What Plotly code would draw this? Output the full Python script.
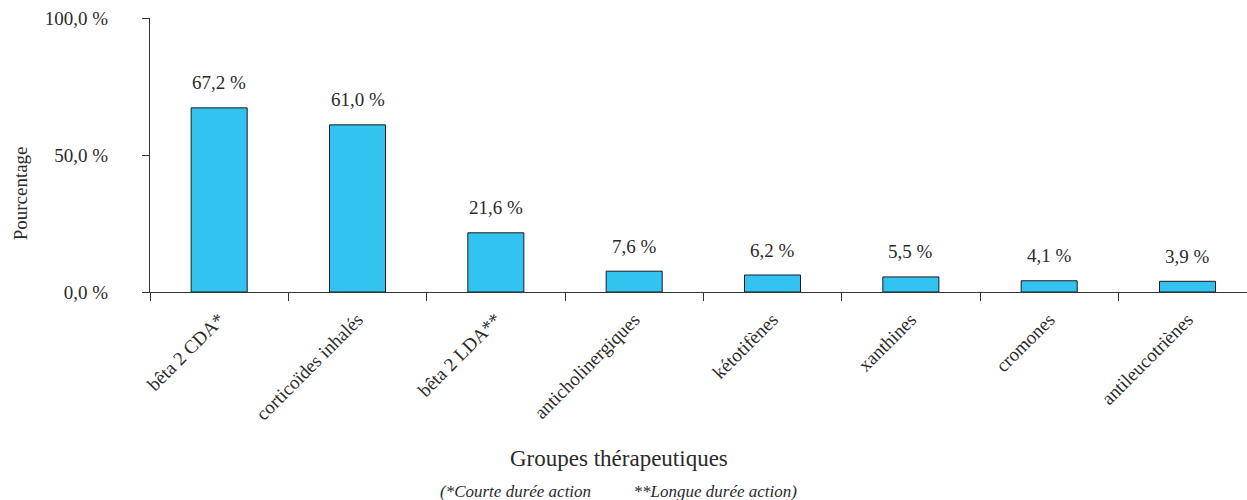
import plotly.graph_objects as go

categories = ["bêta 2 CDA*", "corticoïdes inhalés", "bêta 2 LDA**", "anticholinergiques",
              "kétotifènes", "xanthines", "cromones", "antileucotriènes"]
values = [67.2, 61.0, 21.6, 7.6, 6.2, 5.5, 4.1, 3.9]
value_labels = ["67,2 %", "61,0 %", "21,6 %", "7,6 %", "6,2 %", "5,5 %", "4,1 %", "3,9 %"]
y_tickvals = [0, 50, 100]
y_ticktext = ["0,0 %", "50,0 %", "100,0 %"]

FONT = "Liberation Serif"
TXT = "#2a2a2a"

fig = go.Figure()
fig.add_trace(go.Bar(
    x=categories, y=values,
    marker=dict(color="#33C3F0", line=dict(color="#1a1a1a", width=1)),
    width=0.405,
))

for c, v, t in zip(categories, values, value_labels):
    fig.add_annotation(x=c, y=v, text=t, showarrow=False, yshift=25,
                       font=dict(family=FONT, size=19, color=TXT))

fig.add_annotation(xref="paper", yref="paper", x=0.4275, y=0, yshift=-181,
                   text="Groupes thérapeutiques", showarrow=False,
                   font=dict(family=FONT, size=23, color=TXT))
fig.add_annotation(xref="paper", yref="paper", x=0.4275, y=0, yshift=-211,
                   text="<i>(*Courte durée action          **Longue durée action)</i>",
                   showarrow=False, font=dict(family=FONT, size=17, color=TXT))
fig.add_annotation(xref="paper", yref="paper", x=0, xshift=-130, xanchor="center",
                   y=0.36, text="Pourcentage", textangle=-90, showarrow=False,
                   font=dict(family=FONT, size=19, color=TXT))

fig.update_layout(
    width=1247, height=500,
    margin=dict(l=150, r=0, t=18, b=208),
    plot_bgcolor="white", paper_bgcolor="white",
    showlegend=False,
    font=dict(family=FONT, color=TXT),
    xaxis=dict(
        range=[-0.5, 7.43],
        showline=True, linecolor="#333333", linewidth=1,
        ticks="outside", tickson="boundaries", ticklen=8, tickcolor="#333333",
        tickangle=-45, tickfont=dict(family=FONT, size=19, color=TXT),
        ticklabelstandoff=8,
        showgrid=False, zeroline=False,
    ),
    yaxis=dict(
        range=[0, 100],
        tickvals=y_tickvals, ticktext=y_ticktext,
        showline=True, linecolor="#333333", linewidth=1,
        ticks="outside", ticklen=7, tickcolor="#333333",
        ticklabelstandoff=30,
        tickfont=dict(family=FONT, size=19, color=TXT),
        showgrid=False, zeroline=False,
    ),
)

fig.write_html("out.html")
